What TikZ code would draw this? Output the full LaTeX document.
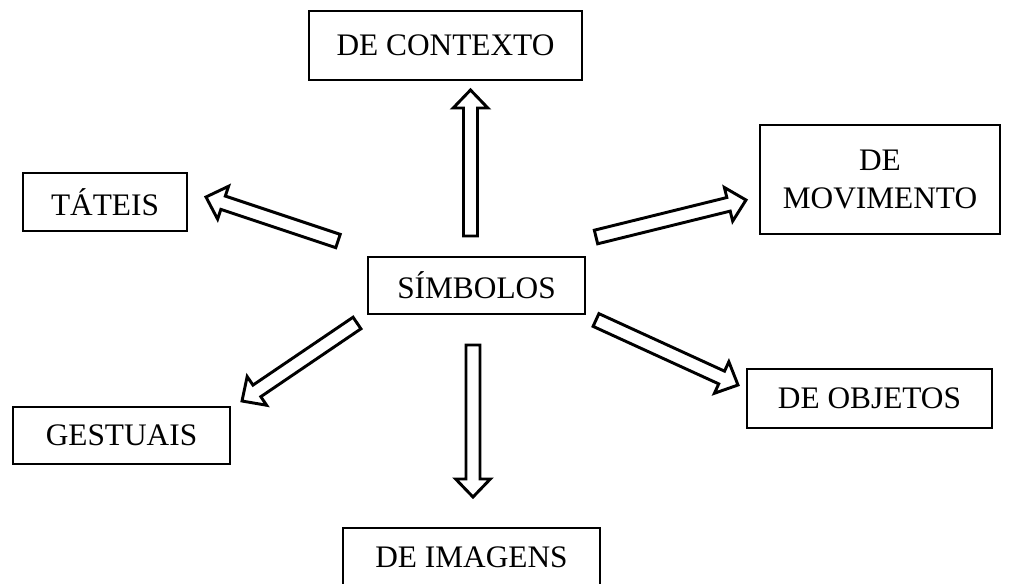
\documentclass[tikz,border=0pt]{standalone}
\usepackage{fontspec}
\setmainfont{Liberation Serif}
\usetikzlibrary{calc}
\tikzset{
  box/.style={draw, line width=1pt, inner sep=0pt, align=center,
    font=\fontsize{23.5}{28}\selectfont},
  blockarrow/.style={draw, line width=2.2pt, line join=miter, fill=white}
}
% hollow block arrow from #1 (tail) to #2 (tip)
\newcommand{\blockarrow}[2]{%
  \coordinate (hb) at ($(#2)!13.5pt!(#1)$);
  \draw[blockarrow]
    ($(#1)!5.25pt!90:(#2)$) -- ($(hb)!5.25pt!90:(#2)$) --
    ($(hb)!13pt!90:(#2)$) -- (#2) -- ($(hb)!13pt!-90:(#2)$) --
    ($(hb)!5.25pt!-90:(#2)$) -- ($(#1)!5.25pt!-90:(#2)$) -- cycle;}
\begin{document}
\begin{tikzpicture}[x=0.75pt,y=-0.75pt]
  \useasboundingbox (0,0) rectangle (1022,583);
  \node[box, minimum width=273*0.75pt, minimum height=69*0.75pt] (ctx) at (445.5,45.5) {DE CONTEXTO};
  \node[box, minimum width=164*0.75pt, minimum height=58*0.75pt] (tat) at (105,202) {TÁTEIS};
  \node[box, minimum width=240*0.75pt, minimum height=109*0.75pt] (mov) at (880,179.5) {DE\\MOVIMENTO};
  \node[box, minimum width=217*0.75pt, minimum height=57*0.75pt] (sim) at (476.5,285.5) {SÍMBOLOS};
  \node[box, minimum width=245*0.75pt, minimum height=59*0.75pt] (obj) at (869.5,398.5) {DE OBJETOS};
  \node[box, minimum width=217*0.75pt, minimum height=57*0.75pt] (ges) at (121.5,435.5) {GESTUAIS};
  \node[box, minimum width=257*0.75pt, minimum height=58*0.75pt] (img) at (471.5,557) {DE IMAGENS};
  % arrow ends
  \coordinate (ctx-s) at (470.5,236);
  \coordinate (ctx-e) at (470.5,90);
  \coordinate (tat-s) at (338,241);
  \coordinate (tat-e) at (206,197);
  \coordinate (mov-s) at (596,237);
  \coordinate (mov-e) at (746,200);
  \coordinate (obj-s) at (596,320);
  \coordinate (obj-e) at (738,385);
  \coordinate (ges-s) at (357,323);
  \coordinate (ges-e) at (242,401);
  \coordinate (img-s) at (473,345);
  \coordinate (img-e) at (473,497);
  \blockarrow{ctx-s}{ctx-e}
  \blockarrow{tat-s}{tat-e}
  \blockarrow{mov-s}{mov-e}
  \blockarrow{obj-s}{obj-e}
  \blockarrow{ges-s}{ges-e}
  \blockarrow{img-s}{img-e}
\end{tikzpicture}
\end{document}
